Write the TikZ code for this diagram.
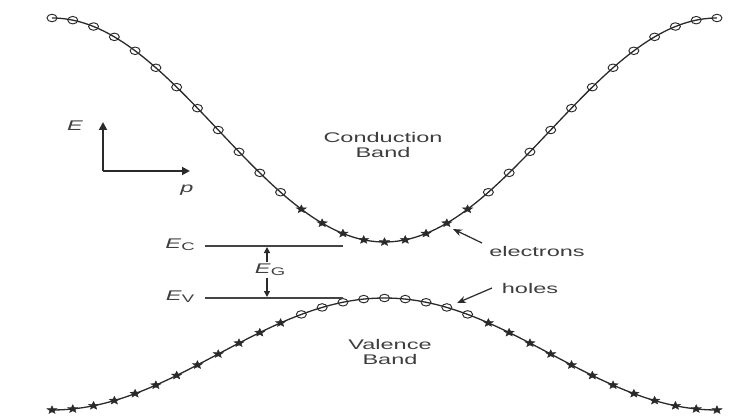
\documentclass[tikz,border=0pt]{standalone}
\usepackage{fontspec}
\setmainfont{Liberation Sans}
\usetikzlibrary{shapes.geometric,arrows.meta}
\definecolor{ink}{HTML}{2A2A2A}
\definecolor{txt}{HTML}{3E3E3E}
\definecolor{lvl}{HTML}{444444}
\begin{document}
\begin{tikzpicture}[x=1pt,y=-1pt,
  lbl/.style={font=\fontsize{14}{15.5}\selectfont, text=txt, xscale=1.68, inner sep=0, align=center},
  circmark/.style={ellipse, draw=ink, line width=0.95pt, minimum width=10pt, minimum height=7.5pt, inner sep=0},
  starmark/.style={star, star points=5, star point ratio=2.3, fill=ink, draw=ink, line width=0.4pt, inner sep=0, minimum size=8.5pt, xscale=1.25},
  band/.style={draw=ink, line width=1.3pt},
  level/.style={draw=lvl, line width=1.1pt},
  axisarrow/.style={draw=ink, line width=1.8pt, -{Triangle[length=8pt,width=8pt]}},
  gaparrow/.style={draw=ink, line width=1.2pt, -{Triangle[length=6pt,width=6pt]}},
  ptr/.style={draw=ink, line width=1.2pt, -{Stealth[length=9pt,width=7pt]}}
]
\useasboundingbox (0,0) rectangle (734,417);

% bands
\draw[band] plot[domain=0:32,samples=161,smooth] ({52+\x*20.78},{130+112*cos(180*(\x-16)/16)});
\draw[band] plot[domain=0:32,samples=161,smooth] ({52+\x*20.78},{354-56*cos(180*(\x-16)/16)});

% conduction band markers
\foreach \i in {0,...,11} {
  \node[circmark] (c\i) at ({52+\i*20.78},{130+112*cos(180*(\i-16)/16)}) {};
}
\foreach \i in {21,...,32} {
  \node[circmark] (c\i) at ({52+\i*20.78},{130+112*cos(180*(\i-16)/16)}) {};
}
\foreach \i in {12,...,20} {
  \node[starmark] (c\i) at ({52+\i*20.78},{130+112*cos(180*(\i-16)/16)}) {};
}
% valence band markers
\foreach \i in {0,...,11} {
  \node[starmark] (v\i) at ({52+\i*20.78},{354-56*cos(180*(\i-16)/16)}) {};
}
\foreach \i in {21,...,32} {
  \node[starmark] (v\i) at ({52+\i*20.78},{354-56*cos(180*(\i-16)/16)}) {};
}
\foreach \i in {12,...,20} {
  \node[circmark] (v\i) at ({52+\i*20.78},{354-56*cos(180*(\i-16)/16)}) {};
}

% axes
\coordinate (o) at (103,171);
\coordinate (eu) at (103,122);
\coordinate (pr) at (190,171);
\draw[axisarrow] (o) -- (eu);
\draw[axisarrow] (o) -- (pr);
\node[lbl] (elab) at (75,126) {\textit{E}};
\node[lbl] (plab) at (187,190) {\textit{p}};

% band labels
\node[lbl] (cb) at (383,145) {Conduction\\Band};
\node[lbl] (vb) at (390,352) {Valence\\Band};

% levels
\node[lbl] (ec) at (180,245) {\textit{E}\raisebox{-2pt}{\fontsize{11}{11}\selectfont C}};
\node[lbl] (ev) at (180,297) {\textit{E}\raisebox{-2pt}{\fontsize{11}{11}\selectfont V}};
\coordinate (ec1) at (205,246);
\coordinate (ec2) at (343,246);
\coordinate (ev1) at (205,298);
\coordinate (ev2) at (343,298);
\draw[level] (ec1) -- (ec2);
\draw[level] (ev1) -- (ev2);

\node[lbl, inner sep=1.5pt] (eg) at (270,270) {\textit{E}\raisebox{-2pt}{\fontsize{11}{11}\selectfont G}};
\coordinate (gu) at (267,247);
\coordinate (gd) at (267,297);
\draw[gaparrow] (eg.north -| gu) -- (gu);
\draw[gaparrow] (eg.south -| gd) -- (gd);

% carriers
\node[lbl] (el) at (537,251) {electrons};
\coordinate (ef) at (482,243);
\coordinate (et) at (453,229);
\draw[ptr] (ef) -- (et);

\node[lbl] (ho) at (530,288) {holes};
\coordinate (hf) at (492,288);
\coordinate (ht) at (457,303);
\draw[ptr] (hf) -- (ht);
\end{tikzpicture}
\end{document}
